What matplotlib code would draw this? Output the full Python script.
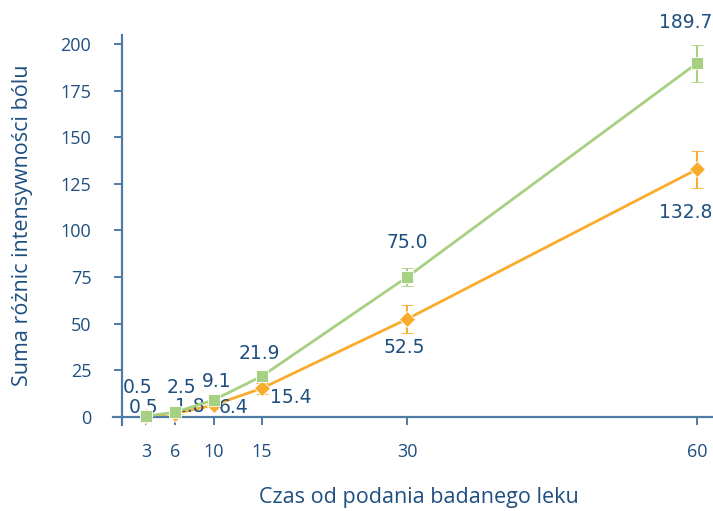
import matplotlib
matplotlib.use('Agg')
from matplotlib import pyplot as plt

# czas od podania leku
czas = [3, 6, 10, 15, 30, 60]
tick_labels = ['3', '6', '10', '15', '30', '60']

# zielona seria (kwadraty)
green_vals = [0.5, 2.5, 9.1, 21.9, 75.0, 189.7]
green_err = [0, 0, 1.5, 3, 5, 10]

# pomaranczowa seria (romby)
orange_vals = [0.5, 1.8, 6.4, 15.4, 52.5, 132.8]
orange_err = [0, 0, 1, 3, 7.5, 10]

# przesuniecia etykiet (piksele)
green_off = [(-8, 29), (6, 25), (3, 19), (-3, 23), (0, 35), (-11, 41)]
orange_off = [(-2, 9), (15, 7), (20, -2), (29, -9), (-3, -28), (-11, -43)]

txt = '#1f4f80'
axcol = '#4f7ba6'
green = '#a6d082'
orange = '#f9ab2c'

fig = plt.figure(figsize=(7.13, 5.11), dpi=100)
ax = fig.add_axes([0.1585, 0.1683, 0.8415, 0.7632])

ax.errorbar(czas, green_vals, yerr=green_err, color=green, lw=2, marker='s', ms=8.5,
			mec='white', mew=0.6, ecolor=green, elinewidth=1.5, capsize=4, capthick=1.5, zorder=3)
ax.errorbar(czas, orange_vals, yerr=orange_err, color=orange, lw=2, marker='D', ms=8.5,
			mec='white', mew=0.6, ecolor=orange, elinewidth=1.5, capsize=4, capthick=1.5, zorder=2)

for x, y, off in zip(czas, green_vals, green_off):
	ax.annotate(f"{y:.1f}", (x, y), xytext=off, textcoords='offset pixels',
				ha='center', va='center', fontsize=13.5, color=txt, family='DejaVu Sans')
for x, y, off in zip(czas, orange_vals, orange_off):
	ax.annotate(f"{y:.1f}", (x, y), xytext=off, textcoords='offset pixels',
				ha='center', va='center', fontsize=13.5, color=txt, family='DejaVu Sans')

ax.set_xlim(-0.41, 61.65)
ax.set_ylim(-4.3, 204.8)
ax.spines['top'].set_visible(False)
ax.spines['right'].set_visible(False)
ax.spines['left'].set_position(('data', 0.5))
ax.spines['bottom'].set_position(('data', 0))
for s in ['left', 'bottom']:
	ax.spines[s].set_color(axcol)
	ax.spines[s].set_linewidth(1.6)

ax.set_xticks(czas)
ax.set_xticklabels(tick_labels)
ax.set_yticks(range(0, 201, 25))
ax.tick_params(axis='both', colors=axcol, labelcolor=txt, length=6, width=1.4, direction='out', labelsize=13)
ax.tick_params(axis='x', pad=13)
ax.tick_params(axis='y', pad=16)
for lab in ax.get_xticklabels() + ax.get_yticklabels():
	lab.set_family('Open Sans')

fig.text(0.588, 0.027, "Czas od podania badanego leku", ha='center', va='center',
		 fontsize=15.5, color=txt, family='Open Sans')
fig.text(0.031, 0.56, "Suma różnic intensywności bólu", ha='center', va='center',
		 rotation=90, fontsize=15.5, color=txt, family='Open Sans')

plt.savefig('out.png', dpi=100)
